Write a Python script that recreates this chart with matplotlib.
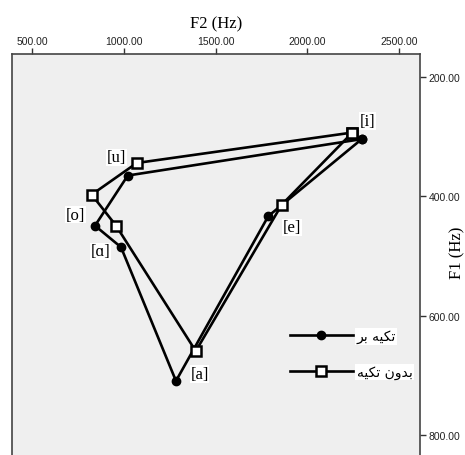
import matplotlib
matplotlib.use("Agg")
import matplotlib.pyplot as plt

# vowel order around the polygon (closed back to [i])
vowels = ["i", "e", "a", "ɑ", "o", "u"]

# stressed (تکیه بر) formants, Hz
f2_stressed = [2298, 1788, 1284, 984, 842, 1021]
f1_stressed = [304, 433, 709, 485, 449, 365]

# unstressed (بدون تکیه) formants, Hz
f2_unstressed = [2247, 1861, 1392, 957, 824, 1070]
f1_unstressed = [293, 414, 659, 449, 397, 344]

x_ticks = [500, 1000, 1500, 2000, 2500]
y_ticks = [200, 400, 600, 800]

# Persian labels written in shaped, visual order (matplotlib does no bidi shaping)
label_stressed = "\uFEAE\uFE91 \uFEEA\uFBFF\uFB91\uFE97"        # تکیه بر
label_unstressed = "\uFEEA\uFBFF\uFB91\uFE97 \uFEE5\uFEED\uFEAA\uFE91"  # بدون تکیه

serif = ["Liberation Serif", "DejaVu Serif"]

fig = plt.figure(figsize=(4.65, 4.56), dpi=100)
ax = fig.add_axes([12 / 465, 0, 408 / 465, 1 - 55 / 456])
ax.set_facecolor("#efefef")

def closed(v):
    return list(v) + [v[0]]

ax.plot(closed(f2_stressed), closed(f1_stressed), color="black", lw=1.9,
        marker="o", ms=6, mfc="black", mec="black", label=label_stressed)
ax.plot(closed(f2_unstressed), closed(f1_unstressed), color="black", lw=1.9,
        marker="s", ms=6.5, mfc="white", mec="black", mew=1.8, label=label_unstressed)

# vowel labels, offsets in points from the stressed point
offsets = {"i": (4, 13), "e": (17, -8), "a": (17, 5), "ɑ": (-15, -3),
           "o": (-14, 8), "u": (-8, 13)}
for v, x, y in zip(vowels, f2_stressed, f1_stressed):
    ax.annotate(f"[{v}]", (x, y), xytext=offsets[v], textcoords="offset points",
                ha="center", va="center", fontsize=12, family=serif,
                bbox=dict(facecolor="white", edgecolor="none", pad=0.5))

ax.set_xlim(389, 2616)
ax.set_ylim(833, 161.5)

ax.xaxis.tick_top()
ax.xaxis.set_label_position("top")
ax.yaxis.tick_right()
ax.set_xticks(x_ticks)
ax.set_yticks(y_ticks)
ax.set_xticklabels([f"{t:.2f}" for t in x_ticks], fontsize=7.5, family="Liberation Sans", color="#222222")
ax.set_yticklabels([f"{t:.2f}" for t in y_ticks], fontsize=7.5, family="Liberation Sans", color="#222222")
ax.tick_params(axis="both", length=4, width=1, color="#333333", pad=2)

ax.set_xlabel("F2 (Hz)", fontsize=12, family=serif, labelpad=6)
fig.text(457 / 465, 1 - 253 / 456, "F1 (Hz)", fontsize=12, family=serif,
         rotation=90, ha="center", va="center")

for side in ["top", "right", "left"]:
    ax.spines[side].set_color("#444444")
    ax.spines[side].set_linewidth(1.2)
ax.spines["bottom"].set_visible(False)

leg = ax.legend(loc="upper left", bbox_to_anchor=(290 / 465, 1 - 330 / 456),
                bbox_transform=fig.transFigure, frameon=False,
                handlelength=4.5, handletextpad=0.3, labelspacing=1.55,
                borderpad=0, borderaxespad=0, numpoints=1,
                prop={"family": "DejaVu Sans", "size": 10})
for t in leg.get_texts():
    t.set_bbox(dict(facecolor="white", edgecolor="none", pad=1))

fig.savefig("out.png", dpi=100)
